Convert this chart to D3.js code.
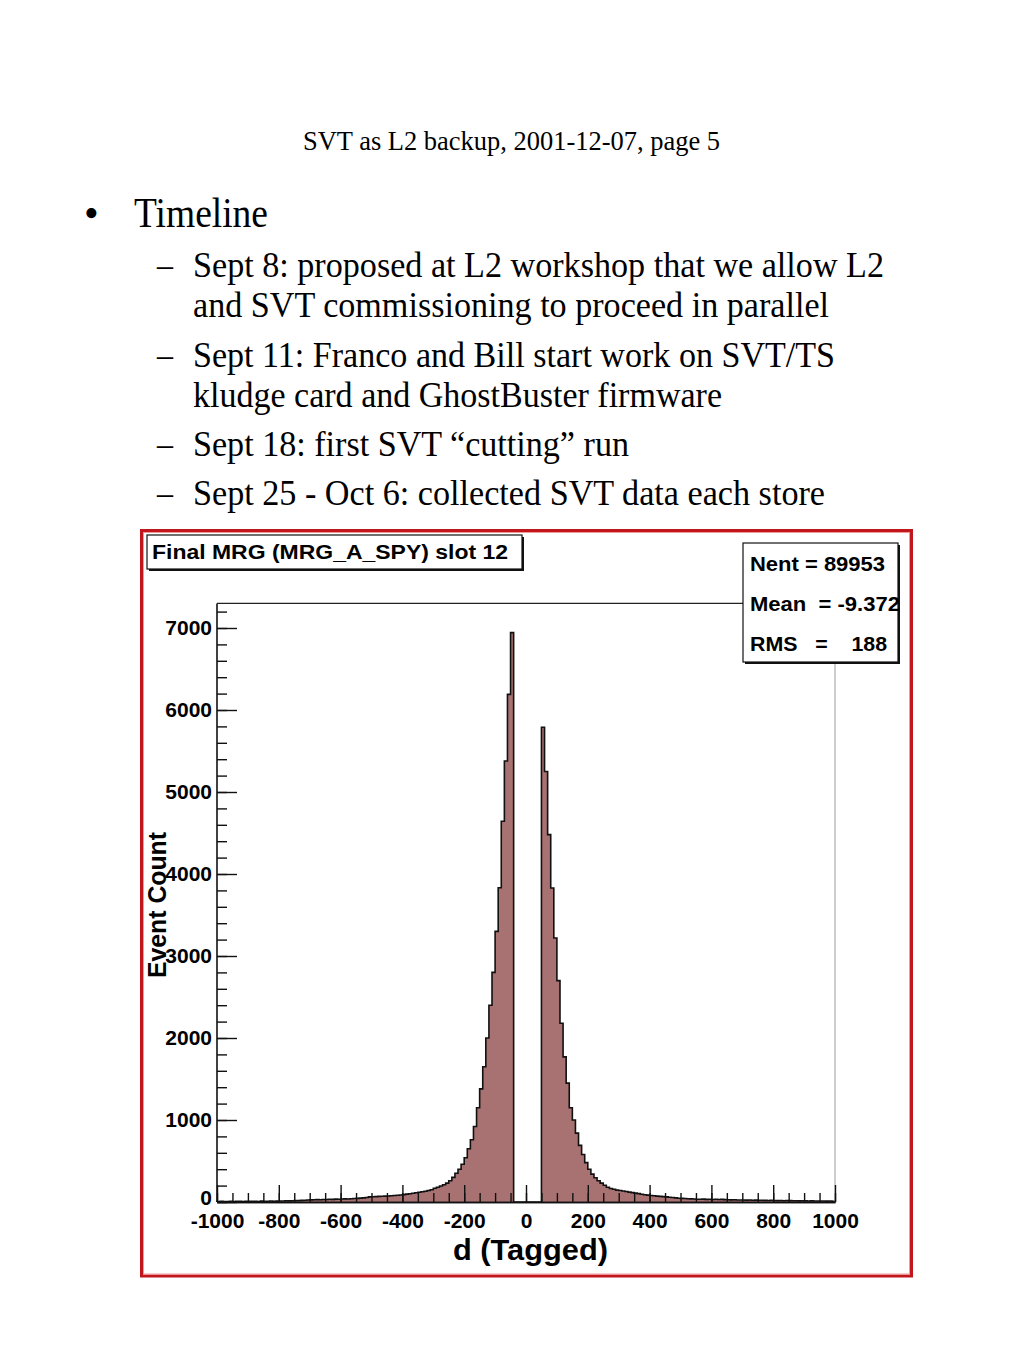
<!DOCTYPE html>
<html>
<head>
<meta charset="utf-8">
<script src="https://cdn.jsdelivr.net/npm/d3@7"></script>
<style>
  body { margin: 0; background: #fff; }
  svg { display: block; }
  .serif { font-family: "Liberation Serif", "Times New Roman", serif; fill: #000; }
  .sans { font-family: "Liberation Sans", Arial, Helvetica, sans-serif; font-weight: bold; fill: #000; }
</style>
</head>
<body>
<svg id="slide" width="1024" height="1365"></svg>
<script>
// slide text
var pageTitle = "SVT as L2 backup, 2001-12-07, page 5";
var bulletText = "Timeline";
var subLines = [
  "Sept 8: proposed at L2 workshop that we allow L2",
  "and SVT commissioning to proceed in parallel",
  "Sept 11: Franco and Bill start work on SVT/TS",
  "kludge card and GhostBuster firmware",
  "Sept 18: first SVT \u201ccutting\u201d run",
  "Sept 25 - Oct 6: collected SVT data each store"
];
var hasDash = [true, false, true, false, true, true];

// histogram: 200 bins of width 10 from -1000 to 1000
var binLow = -1000, binWidth = 10;
var counts = [
  // -1000 .. -400
  6,8,5,7,9,6,8,10,7,9,
  8,10,9,7,11,10,9,12,10,11,
  13,12,15,14,16,18,17,20,22,24,
  26,27,29,28,31,30,33,32,35,34,
  36,38,37,40,42,44,47,50,55,62,
  64,66,68,70,72,74,76,79,82,86,
  // -400 .. -100
  90,96,101,106,112,118,125,132,140,150,
  168,180,195,210,230,260,300,350,400,460,
  540,650,760,920,1150,1380,1650,2000,2400,2800,
  // -100 .. -40
  3300,3833,4643,5378,6191,6943,
  // -40 .. 50 (cut away)
  0,0,0,0,0,0,0,0,0,
  // 50 .. 550
  5790,5250,4480,3830,3220,2700,2180,1770,1450,1150,
  1000,840,690,580,480,400,340,295,260,230,
  205,180,165,155,145,140,135,128,120,114,
  108,102,95,88,84,80,76,72,68,65,
  62,58,54,50,46,44,42,40,38,36,
  // 550 .. 1000
  34,33,35,32,33, 31,33,30,32,29,
  28,26,27,25,24, 25,23,24,22,23,
  21,22,20,19,21, 18,17,19,16,18,
  17,15,16,14,16, 15,13,14,12,13,
  12,13,11,12,10
];

var histTitle = "Final MRG (MRG_A_SPY) slot 12";
var statLines = ["Nent = 89953", "Mean  = -9.372", "RMS   =    188"];
var xTicks = [-1000, -800, -600, -400, -200, 0, 200, 400, 600, 800, 1000];
var yTicks = [0, 1000, 2000, 3000, 4000, 5000, 6000, 7000];
var xTitle = "d (Tagged)";
var yTitle = "Event Count";

var svg = d3.select("#slide");

// ---- slide text ----
svg.append("text").attr("class", "serif")
  .attr("x", 303).attr("y", 150)
  .attr("font-size", 28)
  .attr("textLength", 417).attr("lengthAdjust", "spacingAndGlyphs")
  .text(pageTitle);

svg.append("text").attr("class", "serif")
  .attr("x", 84).attr("y", 227).attr("font-size", 42)
  .text("\u2022");
svg.append("text").attr("class", "serif")
  .attr("x", 134).attr("y", 227).attr("font-size", 42)
  .attr("textLength", 134).attr("lengthAdjust", "spacingAndGlyphs")
  .text(bulletText);

var lineEnds = [884, 829, 835, 722, 629, 825];
var lineBase = [277, 317, 367, 407, 456, 505];
subLines.forEach(function (t, i) {
  if (hasDash[i]) {
    svg.append("text").attr("class", "serif")
      .attr("x", 157).attr("y", lineBase[i]).attr("font-size", 36)
      .attr("textLength", 16).attr("lengthAdjust", "spacingAndGlyphs")
      .text("\u2013");
  }
  svg.append("text").attr("class", "serif")
    .attr("x", 193).attr("y", lineBase[i]).attr("font-size", 36)
    .attr("textLength", lineEnds[i] - 193).attr("lengthAdjust", "spacingAndGlyphs")
    .text(t);
});

// ---- canvas frame ----
svg.append("rect")
  .attr("x", 141.5).attr("y", 530.5).attr("width", 770).attr("height", 745.5)
  .attr("fill", "none").attr("stroke", "#c0161c").attr("stroke-width", 3);
svg.append("rect")
  .attr("x", 143.5).attr("y", 532.5).attr("width", 766).attr("height", 741.5)
  .attr("fill", "none").attr("stroke", "#ef9a9a").attr("stroke-width", 1);

// ---- histogram ----
var x = d3.scaleLinear().domain([-1000, 1000]).range([217, 835]);
var y = d3.scaleLinear().domain([0, 7000]).range([1202, 628]);

var pts = [];
counts.forEach(function (c, i) {
  var x0 = binLow + i * binWidth;
  pts.push([x0, c]);
  pts.push([x0 + binWidth, c]);
});
pts.unshift([binLow, 0]);
pts.push([binLow + counts.length * binWidth, 0]);

var area = d3.area().x(function (d) { return x(d[0]); })
  .y0(y(0)).y1(function (d) { return y(d[1]); });
var line = d3.line().x(function (d) { return x(d[0]); })
  .y(function (d) { return y(d[1]); });

var g = svg.append("g");
g.append("path").attr("d", area(pts)).attr("fill", "#a87272");
g.append("path").attr("d", line(pts)).attr("fill", "none")
  .attr("stroke", "#111").attr("stroke-width", 1.6);

// plot frame
var yTop = y(7300);
g.append("line").attr("x1", 835).attr("x2", 835).attr("y1", yTop).attr("y2", y(0))
  .attr("stroke", "#999").attr("stroke-width", 1);
g.append("line").attr("x1", 217).attr("x2", 835).attr("y1", yTop).attr("y2", yTop)
  .attr("stroke", "#222").attr("stroke-width", 1.3);

// x axis
var xMinor = d3.range(-1000, 1001, 50);
var xAxisMinor = d3.axisBottom(x).tickValues(xMinor).tickSize(-9).tickSizeOuter(0).tickFormat("");
var xAxis = d3.axisBottom(x).tickValues(xTicks).tickSize(-17).tickSizeOuter(0).tickPadding(11)
  .tickFormat(d3.format("d"));
var gx1 = svg.append("g").attr("transform", "translate(0," + y(0) + ")").call(xAxisMinor);
var gx = svg.append("g").attr("transform", "translate(0," + y(0) + ")").call(xAxis);
[gx1, gx].forEach(function (a) {
  a.selectAll("path").attr("stroke", "#111").attr("stroke-width", 1.6);
  a.selectAll("line").attr("stroke", "#111").attr("stroke-width", 1.4);
});
gx.selectAll("text").attr("class", "sans").attr("font-size", 21).attr("fill", "#000")
  .text(function (d) { return d < 0 ? "-" + Math.abs(d) : d; });

// y axis
var yMinor = d3.range(0, 7201, 200);
var yAxisMinor = d3.axisLeft(y).tickValues(yMinor).tickSize(-10).tickSizeOuter(0).tickFormat("");
var yAxis = d3.axisLeft(y).tickValues(yTicks).tickSize(-20).tickSizeOuter(0).tickPadding(5)
  .tickFormat(d3.format("d"));
var gy1 = svg.append("g").attr("transform", "translate(217,0)").call(yAxisMinor);
var gy = svg.append("g").attr("transform", "translate(217,0)").call(yAxis);
[gy1, gy].forEach(function (a) {
  a.selectAll("path").remove();
  a.selectAll("line").attr("stroke", "#111").attr("stroke-width", 1.4);
});
svg.append("line").attr("x1", 217).attr("x2", 217).attr("y1", yTop).attr("y2", y(0))
  .attr("stroke", "#111").attr("stroke-width", 1.6);
gy.selectAll("text").attr("class", "sans").attr("font-size", 21).attr("fill", "#000");
// the zero label sits a little higher, clear of the -1000 label
gy.selectAll(".tick").filter(function (d) { return d === 0; }).select("text").attr("dy", "0.1em");

// axis titles
svg.append("text").attr("class", "sans")
  .attr("x", 453).attr("y", 1260).attr("font-size", 29)
  .attr("textLength", 155).attr("lengthAdjust", "spacingAndGlyphs")
  .text(xTitle);
svg.append("text").attr("class", "sans")
  .attr("transform", "translate(166,978) rotate(-90)")
  .attr("font-size", 26)
  .attr("textLength", 146).attr("lengthAdjust", "spacingAndGlyphs")
  .text(yTitle);

// ---- title box ----
function shadowBox(x0, y0, w, h) {
  svg.append("rect").attr("x", x0 + 2).attr("y", y0 + 2).attr("width", w).attr("height", h)
    .attr("fill", "#111");
  svg.append("rect").attr("x", x0).attr("y", y0).attr("width", w).attr("height", h)
    .attr("fill", "#fff").attr("stroke", "#111").attr("stroke-width", 1.2);
}
shadowBox(147, 535, 375, 34);
svg.append("text").attr("class", "sans")
  .attr("x", 152).attr("y", 559).attr("font-size", 20)
  .attr("textLength", 356).attr("lengthAdjust", "spacingAndGlyphs")
  .text(histTitle);

// ---- stats box ----
shadowBox(743, 543, 155, 119);
var statW = [135, 150, 137];
statLines.forEach(function (t, i) {
  svg.append("text").attr("class", "sans")
    .attr("x", 750).attr("y", 571 + i * 40).attr("font-size", 21)
    .attr("textLength", statW[i]).attr("lengthAdjust", "spacingAndGlyphs")
    .attr("xml:space", "preserve")
    .text(t);
});
</script>
</body>
</html>
